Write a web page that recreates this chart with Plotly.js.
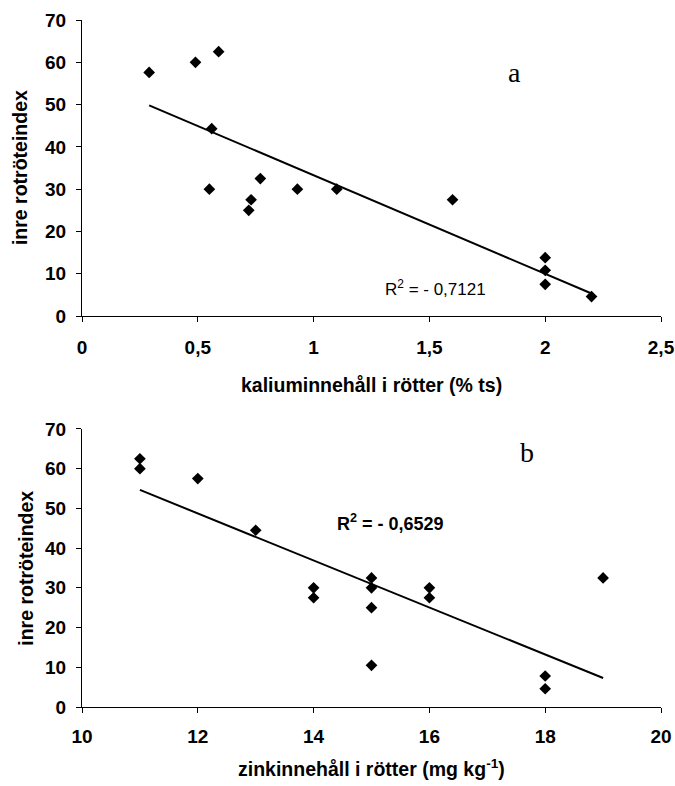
<!DOCTYPE html>
<html>
<head>
<meta charset="utf-8">
<script src="https://cdn.plot.ly/plotly-3.0.1.min.js"></script>
<style>html,body{margin:0;padding:0;background:#fff;}#chart{width:675px;height:786px;}</style>
</head>
<body>
<div id="chart"></div>
<script>
// Panel a: kaliuminnehåll (% ts) vs inre rotröteindex
const kaliumX = [0.29, 0.49, 0.59, 0.56, 0.55, 0.73, 0.72, 0.77, 0.93, 1.10, 1.60, 2.00, 2.00, 2.00, 2.20];
const kaliumY = [57.6, 60.0, 62.5, 44.3, 30.0, 27.5, 25.0, 32.5, 30.0, 30.0, 27.5, 13.8, 10.8, 7.5, 4.6];
// Panel b: zinkinnehåll (mg/kg) vs inre rotröteindex
const zinkX = [11, 11, 12, 13, 14, 14, 15, 15, 15, 15, 16, 16, 18, 18, 19];
const zinkY = [62.5, 60.0, 57.5, 44.5, 30.0, 27.5, 32.5, 30.0, 25.0, 10.5, 30.0, 27.5, 7.8, 4.6, 32.5];

const labelA = "a";
const labelB = "b";
const r2TextA = "R<sup>2</sup> = - 0,7121";
const r2TextB = "<b>R<sup>2</sup> = - 0,6529</b>";
const yTitle = "inre rotröteindex";
const xTitleA = "kaliuminnehåll i rötter (% ts)";
const xTitleB = "zinkinnehåll i rötter (mg kg<sup>-1</sup>)";

function fit(xs, ys) {
  const n = xs.length;
  const mx = xs.reduce((a, b) => a + b, 0) / n;
  const my = ys.reduce((a, b) => a + b, 0) / n;
  let sxy = 0, sxx = 0;
  for (let i = 0; i < n; i++) { sxy += (xs[i] - mx) * (ys[i] - my); sxx += (xs[i] - mx) ** 2; }
  const b = sxy / sxx, a = my - b * mx;
  const x0 = Math.min(...xs), x1 = Math.max(...xs);
  return { x: [x0, x1], y: [a + b * x0, a + b * x1] };
}
const fa = fit(kaliumX, kaliumY);
const fb = fit(zinkX, zinkY);

const sansFam = "'Liberation Sans', Arial, sans-serif";
const tickFont = { family: sansFam, size: 19, color: "#000", weight: 700 };
const titleFont = { family: sansFam, size: 19.5, color: "#000" };
const marker = { symbol: "diamond", size: 9, color: "#000" };
const lineStyle = { color: "#000", width: 2 };

const data = [
  { x: kaliumX, y: kaliumY, type: "scatter", mode: "markers", marker: marker, xaxis: "x", yaxis: "y", hoverinfo: "none" },
  { x: fa.x, y: fa.y, type: "scatter", mode: "lines", line: lineStyle, xaxis: "x", yaxis: "y", hoverinfo: "none" },
  { x: zinkX, y: zinkY, type: "scatter", mode: "markers", marker: marker, xaxis: "x2", yaxis: "y2", hoverinfo: "none" },
  { x: fb.x, y: fb.y, type: "scatter", mode: "lines", line: lineStyle, xaxis: "x2", yaxis: "y2", hoverinfo: "none" }
];

const axBase = {
  showgrid: false, zeroline: false, showline: true, linecolor: "#000", linewidth: 1,
  ticks: "outside", ticklen: 5, tickcolor: "#000", tickwidth: 1, tickfont: tickFont
};

const layout = {
  width: 675, height: 786,
  margin: { l: 82, r: 14, t: 20, b: 79 },
  paper_bgcolor: "#fff", plot_bgcolor: "#fff",
  showlegend: false,
  separators: ", ",
  xaxis: Object.assign({}, axBase, { domain: [0, 1], anchor: "y", range: [0, 2.5], tickvals: [0, 0.5, 1, 1.5, 2, 2.5], ticklabelstandoff: 9 }),
  yaxis: Object.assign({}, axBase, { domain: [0.5691, 1], anchor: "x", range: [0, 70], dtick: 10, ticklabelstandoff: 6 }),
  xaxis2: Object.assign({}, axBase, { domain: [0, 1], anchor: "y2", range: [10, 20], dtick: 2, ticklabelstandoff: 7 }),
  yaxis2: Object.assign({}, axBase, { domain: [0, 0.4047], anchor: "x2", range: [0, 70], dtick: 10, ticklabelstandoff: 6 }),
  annotations: [
    { text: labelA, xref: "x", yref: "y", x: 1.866, y: 57.7, xanchor: "center", yanchor: "middle", showarrow: false, font: { family: "'Liberation Serif', 'DejaVu Serif', serif", size: 28, color: "#000" } },
    { text: labelB, xref: "x2", yref: "y2", x: 17.68, y: 64.0, xanchor: "center", yanchor: "middle", showarrow: false, font: { family: "'Liberation Serif', 'DejaVu Serif', serif", size: 28, color: "#000" } },
    { text: r2TextA, xref: "x", yref: "y", x: 1.528, y: 6.6, xanchor: "center", yanchor: "middle", showarrow: false, font: { family: sansFam, size: 17, color: "#000" } },
    { text: r2TextB, xref: "x2", yref: "y2", x: 15.33, y: 46.4, xanchor: "center", yanchor: "middle", showarrow: false, font: { family: sansFam, size: 18, color: "#000" } },
    { text: "<b>" + yTitle + "</b>", xref: "paper", yref: "paper", x: -0.107, y: 0.7845, xanchor: "center", yanchor: "middle", textangle: -90, showarrow: false, font: { family: sansFam, size: 19.5, color: "#000" } },
    { text: "<b>" + yTitle + "</b>", xref: "paper", yref: "paper", x: -0.097, y: 0.2024, xanchor: "center", yanchor: "middle", textangle: -90, showarrow: false, font: { family: sansFam, size: 19.5, color: "#000" } },
    { text: "<b>" + xTitleA + "</b>", xref: "paper", yref: "paper", x: 0.5, y: 0.4687, xanchor: "center", yanchor: "middle", showarrow: false, font: titleFont },
    { text: "<b>" + xTitleB + "</b>", xref: "paper", yref: "paper", x: 0.5, y: -0.0888, xanchor: "center", yanchor: "middle", showarrow: false, font: titleFont }
  ]
};

Plotly.newPlot("chart", data, layout, { displayModeBar: false, staticPlot: true });
</script>
</body>
</html>
